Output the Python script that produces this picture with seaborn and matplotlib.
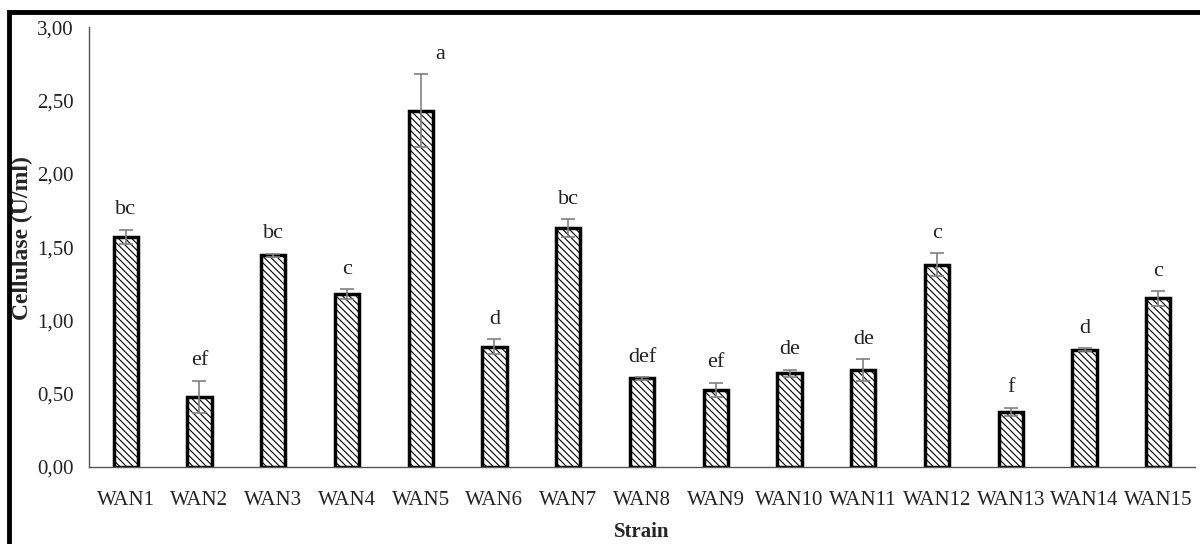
import matplotlib
matplotlib.use("Agg")
import matplotlib.pyplot as plt
import numpy as np
import pandas as pd
import seaborn as sns
from matplotlib.patches import Rectangle
from matplotlib.ticker import FuncFormatter

strains = ["WAN1", "WAN2", "WAN3", "WAN4", "WAN5", "WAN6", "WAN7", "WAN8",
           "WAN9", "WAN10", "WAN11", "WAN12", "WAN13", "WAN14", "WAN15"]
cellulase = [1.57, 0.48, 1.445, 1.18, 2.43, 0.82, 1.63, 0.605,
             0.525, 0.64, 0.66, 1.38, 0.375, 0.80, 1.15]
err = [0.05, 0.11, 0.01, 0.035, 0.25, 0.05, 0.06, 0.01,
       0.05, 0.025, 0.075, 0.08, 0.03, 0.01, 0.05]
letters = ["bc", "ef", "bc", "c", "a", "d", "bc", "def",
           "ef", "de", "de", "c", "f", "d", "c"]

df = pd.DataFrame({"Strain": strains, "Cellulase": cellulase, "err": err, "letter": letters})

sns.set_style("white")
plt.rcParams['font.family'] = ['Liberation Serif', 'DejaVu Serif']
plt.rcParams['hatch.linewidth'] = 0.8

fig = plt.figure(figsize=(12, 5.44), dpi=100)
ax = fig.add_axes([0.074, 0.1415, 0.922, 0.8085])

sns.barplot(data=df, x="Strain", y="Cellulase", color="white", edgecolor="black",
            linewidth=2.5, width=0.33, hatch="\\\\\\\\\\", errorbar=None, ax=ax)

xs = np.arange(len(strains))
ax.errorbar(xs, df["Cellulase"], yerr=df["err"], fmt="none", ecolor="#808080",
            elinewidth=1.2, capsize=5, capthick=1.2, zorder=5)

# letter groups above the error bars ("a" sits off to the right in the original)
dx = {4: 0.26}
for i, row in df.iterrows():
    ax.text(i + dx.get(i, 0), row["Cellulase"] + row["err"] + 0.07, row["letter"],
            ha="center", va="bottom", fontsize=16, color="#222222")

ax.set_ylim(0, 3.0)
ax.set_xlim(-0.5, len(strains) - 0.5)
ax.set_yticks(np.arange(0, 3.01, 0.5))
ax.yaxis.set_major_formatter(FuncFormatter(lambda v, p: f"{v:.2f}".replace(".", ",")))
ax.tick_params(axis="both", length=0, labelsize=15, colors="#222222")
ax.tick_params(axis="x", pad=17)
ax.tick_params(axis="y", pad=11)

for s in ["top", "right"]:
    ax.spines[s].set_visible(False)
for s in ["left", "bottom"]:
    ax.spines[s].set_color("#555555")
    ax.spines[s].set_linewidth(1.0)

ax.set_xlabel("Strain", fontsize=15, fontweight="bold", labelpad=9)
ax.set_ylabel("Cellulase (U/ml)", fontsize=17, fontweight="bold")
ax.yaxis.set_label_coords(-0.05, 0.52)

# outer black frame
fig.patches.append(Rectangle((0.0075, -0.1), 1.2, 1.078, transform=fig.transFigure,
                             fill=False, edgecolor="black", linewidth=3.5, zorder=10))

fig.savefig("out.png", dpi=100)
